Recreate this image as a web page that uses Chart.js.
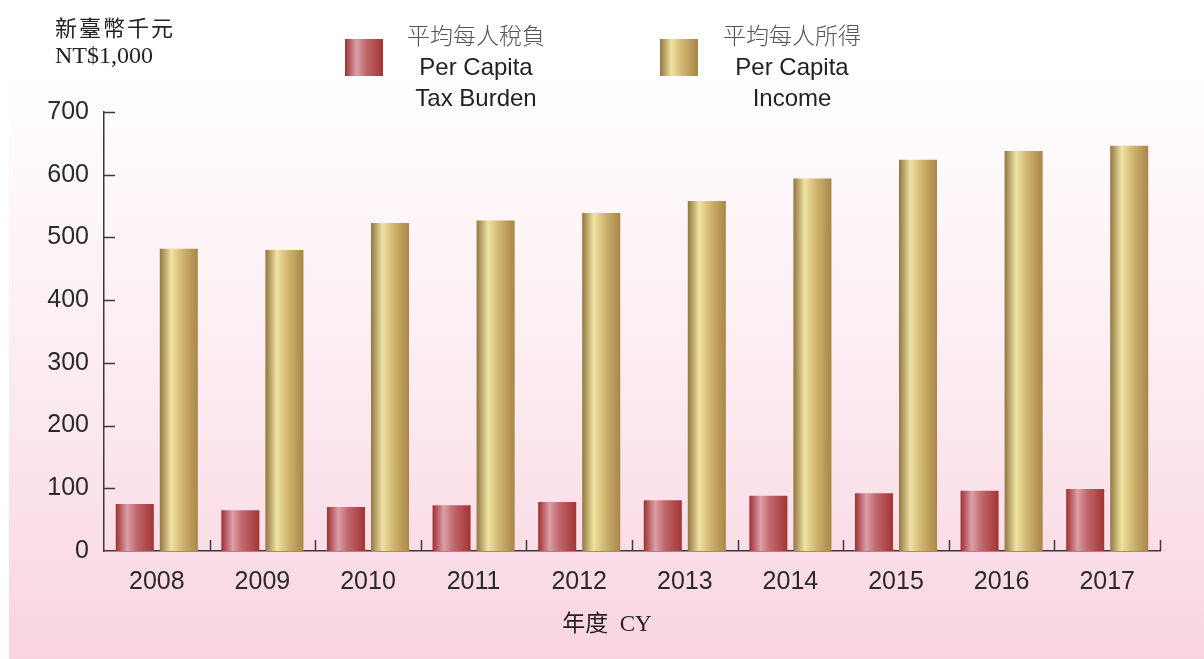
<!DOCTYPE html>
<html>
<head>
<meta charset="utf-8">
<script src="https://cdn.jsdelivr.net/npm/chart.js@4"></script>
<style>
  body { margin: 0; background: #fff; }
  #wrap { width: 1204px; height: 659px; position: relative; }
</style>
</head>
<body>
<div id="wrap"><canvas id="chart" width="1204" height="659"></canvas></div>
<script>
const years = ['2008', '2009', '2010', '2011', '2012', '2013', '2014', '2015', '2016', '2017'];
const taxBurden = [75, 65, 70, 73, 78, 81, 88, 92, 96, 99];
const income = [482, 480, 523, 527, 539, 558, 594, 624, 638, 646];
const yTicks = [0, 100, 200, 300, 400, 500, 600, 700];

const taxLabel = ['平均每人稅負', 'Per Capita', 'Tax Burden'];
const incomeLabel = ['平均每人所得', 'Per Capita', 'Income'];
const yTitle = ['新臺幣千元', 'NT$1,000'];
const xTitle = '年度  CY';

const CAT_PCT = 0.834;
const BAR_PCT = 0.864;

const taxStops = [[0, '#9e3030'], [0.3, '#dc9fa9'], [0.55, '#c0686c'], [1, '#a33434']];
const incomeStops = [[0, '#927640'], [0.3, '#efe3a2'], [0.6, '#cfb470'], [1, '#a98646']];

function makeGradient(c, x0, x1, stops) {
    const g = c.createLinearGradient(x0, 0, x1, 0);
    stops.forEach(s => g.addColorStop(s[0], s[1]));
    return g;
}

function barFill(stops) {
    return function (ctx) {
        const chart = ctx.chart;
        const xs = chart.scales.x;
        if (ctx.type !== 'data' || !xs) return stops[1][1];
        const cw = xs.width / years.length;
        const slot = cw * CAT_PCT / 2;
        const center = xs.getPixelForValue(ctx.dataIndex) + (ctx.datasetIndex === 0 ? -slot / 2 : slot / 2);
        const half = slot * BAR_PCT / 2;
        if (!isFinite(center) || !isFinite(half) || half <= 0) return stops[1][1];
        return makeGradient(chart.ctx, center - half, center + half, stops);
    };
}

// background, custom legend, titles and inward tick marks
const decor = {
    id: 'decor',
    beforeDraw(chart) {
        const c = chart.ctx;
        c.save();
        c.fillStyle = '#ffffff';
        c.fillRect(0, 0, chart.width, chart.height);
        const g = c.createLinearGradient(0, 80, 0, chart.height);
        g.addColorStop(0, '#fffefe');
        g.addColorStop(0.5, '#fcecf2');
        g.addColorStop(1, '#f8d4e1');
        c.fillStyle = g;
        c.fillRect(9, 80, chart.width - 9, chart.height - 80);
        c.restore();
    },
    afterDraw(chart) {
        const c = chart.ctx;
        const xs = chart.scales.x, ys = chart.scales.y;
        const area = chart.chartArea;
        c.save();
        c.strokeStyle = '#3a3a3a';
        c.lineWidth = 1.5;
        yTicks.slice(1).forEach(v => {
            const y = Math.round(ys.getPixelForValue(v)) + 0.5;
            c.beginPath();
            c.moveTo(area.left, y);
            c.lineTo(area.left + 11, y);
            c.stroke();
        });
        const cw = xs.width / years.length;
        for (let i = 1; i <= years.length; i++) {
            const x = Math.round(area.left + i * cw) + 0.5;
            c.beginPath();
            c.moveTo(x, area.bottom);
            c.lineTo(x, area.bottom - 11);
            c.stroke();
        }

        // y title
        c.fillStyle = '#222';
        c.textBaseline = 'middle';
        c.textAlign = 'left';
        c.font = '22px "Noto Sans CJK TC"';
        c.letterSpacing = '2px';
        c.fillText(yTitle[0], 55, 28);
        c.letterSpacing = '0px';
        c.font = '24px "Liberation Serif"';
        c.fillText(yTitle[1], 55, 57);

        // x title
        c.textAlign = 'center';
        c.font = '23px "Liberation Serif", "Noto Sans CJK TC"';
        c.fillText(xTitle, 607, 625);

        // legend
        const items = [
            { x: 345, tx: 476, lines: taxLabel, stops: taxStops },
            { x: 660, tx: 792, lines: incomeLabel, stops: incomeStops }
        ];
        items.forEach(it => {
            c.fillStyle = makeGradient(c, it.x, it.x + 38, it.stops);
            c.fillRect(it.x, 39, 38, 37);
            c.textAlign = 'center';
            c.fillStyle = '#555';
            c.font = '300 23px "Noto Sans CJK TC"';
            c.fillText(it.lines[0], it.tx, 35);
            c.fillStyle = '#222';
            c.font = '24px "Liberation Sans"';
            c.fillText(it.lines[1], it.tx, 68);
            c.fillText(it.lines[2], it.tx, 99);
        });
        c.restore();
    }
};

new Chart(document.getElementById('chart'), {
    type: 'bar',
    data: {
        labels: years,
        datasets: [
            {
                label: taxLabel.join(' '),
                data: taxBurden,
                backgroundColor: barFill(taxStops),
                categoryPercentage: CAT_PCT,
                barPercentage: BAR_PCT
            },
            {
                label: incomeLabel.join(' '),
                data: income,
                backgroundColor: barFill(incomeStops),
                categoryPercentage: CAT_PCT,
                barPercentage: BAR_PCT
            }
        ]
    },
    options: {
        responsive: false,
        animation: false,
        devicePixelRatio: 1,
        layout: {
            padding: { left: 0, right: 44, top: 112, bottom: 0 }
        },
        scales: {
            x: {
                grid: { display: false, drawTicks: false, tickLength: 0 },
                border: { display: true, color: '#3a3a3a', width: 1.5 },
                ticks: {
                    color: '#2a2a2a',
                    padding: 16,
                    font: { family: 'Liberation Sans', size: 25 }
                },
                afterFit(scale) { scale.height = 108; }
            },
            y: {
                min: 0,
                max: 700,
                grid: { display: false, drawTicks: false, tickLength: 0 },
                border: { display: true, color: '#3a3a3a', width: 1.5 },
                afterBuildTicks(scale) { scale.ticks = yTicks.map(v => ({ value: v })); },
                ticks: {
                    color: '#2a2a2a',
                    padding: 15,
                    font: { family: 'Liberation Sans', size: 25 }
                },
                afterFit(scale) { scale.width = 104; }
            }
        },
        plugins: {
            legend: { display: false },
            tooltip: { enabled: false }
        }
    },
    plugins: [decor]
});
</script>
</body>
</html>
